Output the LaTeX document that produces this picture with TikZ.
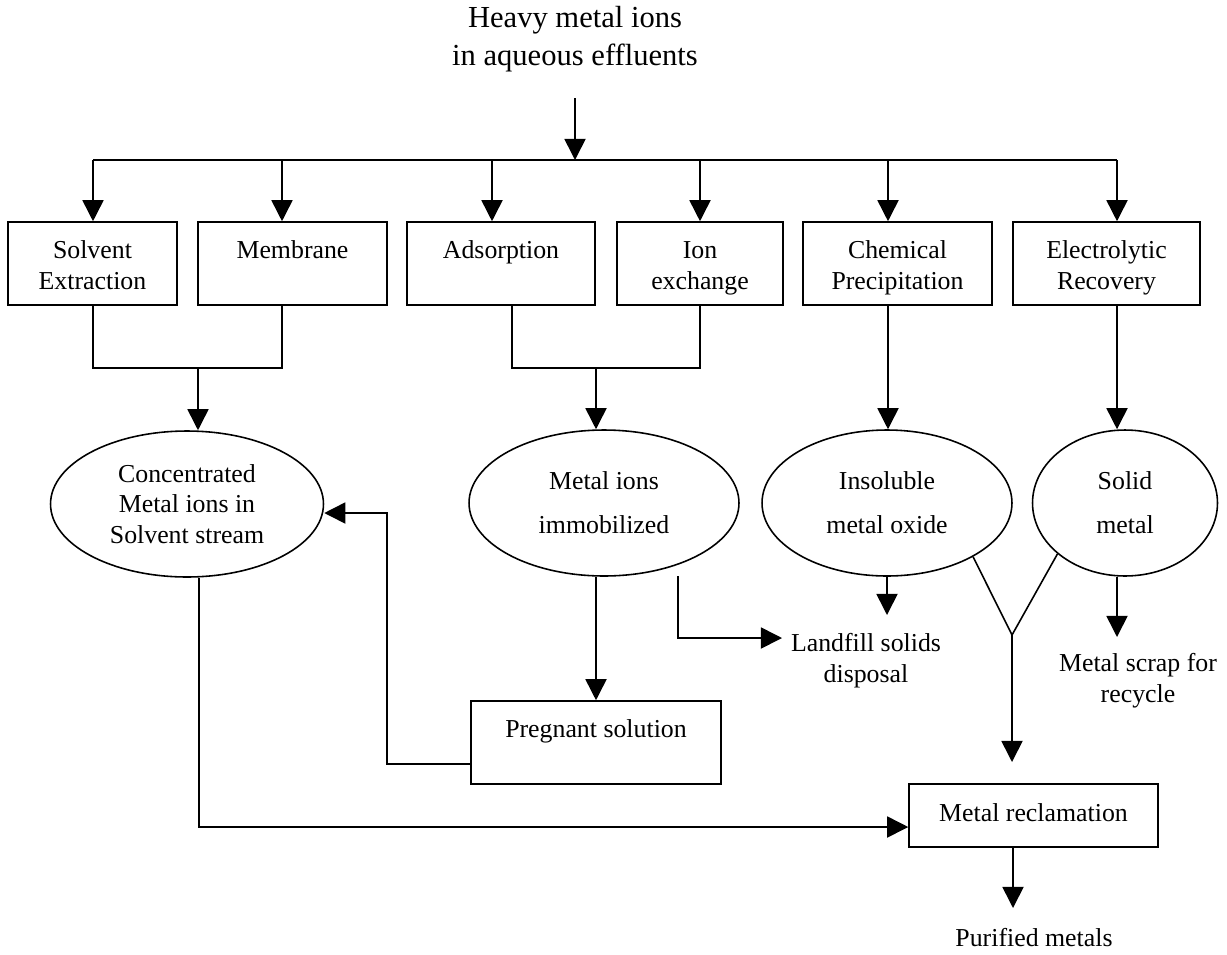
\documentclass[tikz,border=0pt]{standalone}
\usepackage{fontspec}
\setmainfont{Liberation Serif}
\usetikzlibrary{arrows.meta,shapes.geometric}
\newcommand\BoxFont{\fontsize{14.7}{17.5}\selectfont}
\newcommand\TitleFont{\fontsize{17.4}{21.6}\selectfont}
\newcommand\Top{\rule{0pt}{17pt}}
\tikzset{
    every node/.style={font=\BoxFont, inner sep=0pt},
    proc/.style={draw, line width=0.9pt, align=center, minimum height=1.66cm},
    oval/.style={draw, ellipse, line width=0.9pt, align=center, minimum height=2.92cm},
    note/.style={align=center},
    link/.style={line width=0.9pt},
    arr/.style={line width=0.9pt, -{Triangle[length=12pt,width=12pt]}},
}

\begin{document}
\begin{tikzpicture}[x=0.02cm,y=-0.02cm]
    \useasboundingbox (0,0) rectangle (1227,954);
    % source and bus
    \node[note,font=\TitleFont] (Src) at (575,39) {Heavy metal ions\\in aqueous effluents};
    \coordinate (Bus) at (575,160);
    \draw[arr,shorten <=0.52cm] (Src.south) -- (Bus);
    \draw[link] (93,160) -- (1117,160);
    % processes
    \node[proc,minimum width=3.38cm] (se)   at (92.5,263.5)  {\Top Solvent\\Extraction\strut};
    \node[proc,minimum width=3.78cm] (mem)  at (292.5,263.5) {\Top Membrane\\\strut};
    \node[proc,minimum width=3.76cm] (ads)  at (501,263.5)   {\Top Adsorption\\\strut};
    \node[proc,minimum width=3.32cm] (ion)  at (700,263.5)   {\Top Ion\\exchange\strut};
    \node[proc,minimum width=3.78cm] (chem) at (897.5,263.5) {\Top Chemical\\Precipitation\strut};
    \node[proc,minimum width=3.74cm] (elec) at (1106.5,263.5) {\Top Electrolytic\\Recovery\strut};
    \foreach \n/\x in {se/93, mem/282, ads/492, ion/700, chem/888, elec/1117}
        \draw[arr] (\x,160) -- (\x,0 |- \n.north);
    % products
    \node[oval,minimum width=5.46cm] (conc) at (187,504) {Concentrated\\Metal ions in\\Solvent stream};
    \node[oval,minimum width=5.40cm] (immo) at (604,503) {Metal ions\\[7.5pt]immobilized};
    \node[oval,minimum width=5.00cm] (oxid) at (887,503) {Insoluble\\[7.5pt]metal oxide};
    \node[oval,minimum width=3.70cm] (soli) at (1125,503) {Solid\\[7.5pt]metal};
    \draw[link] (se.south -| 93,0) -- (93,368) -- (282,368) -- (282,0 |- mem.south);
    \draw[arr] (198,368) -- (198,0 |- conc.north);
    \draw[link] (512,0 |- ads.south) -- (512,368) -- (700,368) -- (700,0 |- ion.south);
    \draw[arr] (596,368) -- (596,0 |- immo.north);
    \draw[arr] (888,0 |- chem.south) -- (888,0 |- oxid.north);
    \draw[arr] (1117,0 |- elec.south) -- (1117,0 |- soli.north);
    % outlets
    \node[proc,minimum width=5.00cm] (preg) at (596,742.5) {\Top Pregnant solution\\\strut};
    \node[proc,minimum width=4.98cm,minimum height=1.26cm] (recl) at (1033.5,815.5) {\strut Metal reclamation};
    \node[note] (land)  at (866,661)  {Landfill solids\\disposal};
    \node[note] (scrap) at (1138,681) {Metal scrap for\\recycle};
    \node (pure) at (1034,938) {Purified metals};
    \draw[arr] (immo.south -| preg.north) -- (preg.north);
    \draw[arr] (preg.west |- 0,764) -- (387,764) -- (387,513) -- (conc.east |- 0,513);
    \draw[arr] (199,0 |- conc.south) -- (199,827) -- (recl.west |- 0,827);
    \draw[arr] (678,576) -- (678,638) -- (782,638);
    \draw[arr] (oxid.south) -- (887,615);
    \draw[arr] (1117,0 |- soli.south) -- (1117,637);
    \draw[link] (oxid.-32) -- (1012,635) coordinate (Join) -- (soli.217);
    \draw[arr] (Join) -- (1012,762);
    \draw[arr] (1013,0 |- recl.south) -- (1013,908);
\end{tikzpicture}
\end{document}
